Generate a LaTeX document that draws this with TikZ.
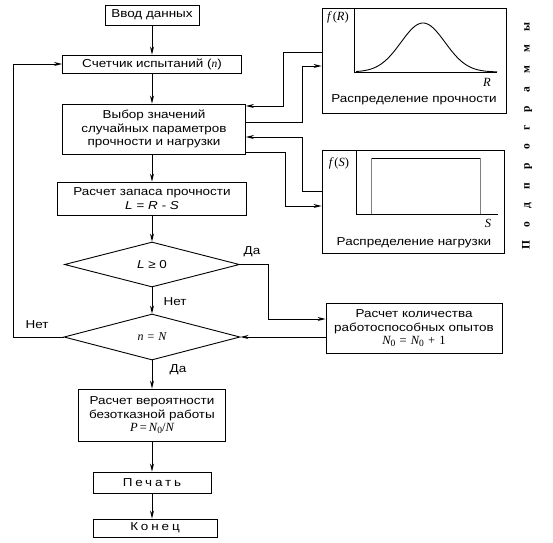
\documentclass[tikz,border=0pt]{standalone}
\usepackage{fontspec}
\setmainfont{Liberation Sans}[FakeStretch=1.17]
\newfontfamily\spacedfont{Liberation Sans}[FakeStretch=1.17,LetterSpace=25]
\newfontfamily\subfont{Liberation Serif}[LetterSpace=115]
\newfontfamily\timesf{Liberation Serif}
\newcommand\myit[1]{{\timesf\itshape #1}}
\newcommand\myrm[1]{{\timesf #1}}
\newcommand\mysub[1]{\raisebox{-0.3ex}{\fontsize{9.5}{10}\selectfont #1}}
\usetikzlibrary{shapes.geometric,arrows.meta}
\begin{document}
\begin{tikzpicture}[x=1pt,y=-1pt,
  line width=0.9pt,
  arr/.style={-{Stealth[length=8pt,width=4pt]}},
  box/.style={draw, rectangle, align=center, inner sep=0pt, font=\fontsize{11.5}{13.5}\selectfont},
  dia/.style={draw, diamond, inner sep=0pt, font=\fontsize{12}{13.5}\selectfont},
  lbl/.style={font=\fontsize{11.5}{13}\selectfont, inner sep=0pt},
  mlbl/.style={font=\fontsize{12.5}{13}\selectfont, inner sep=0pt},
  sub/.style={draw, rectangle, inner sep=0pt}]
\useasboundingbox (0,0) rectangle (553,542);

\node[box, minimum width=94, minimum height=20] (in) at (152,15) {Ввод данных};
\node[box, minimum width=179, minimum height=18] (cnt) at (152,64) {Счетчик испытаний (\myit{n})};
\node[box, minimum width=183, minimum height=50] (vyb) at (154,129) {Выбор значений\\случайных параметров\\прочности и нагрузки};
\node[box, minimum width=189, minimum height=33] (zap) at (152,198.5) {Расчет запаса прочности\\{\itshape L\,\,=\,\,R\,\,-\,\,S}};
\node[dia, minimum width=175, minimum height=45, font=\fontsize{11.5}{13}\selectfont] (d1) at (152,264.5) {{\itshape L} ≥ 0};
\node[dia, minimum width=176, minimum height=46] (d2) at (152,337) {\myrm{\myit{n}\,\,=\,\,\myit{N}}};
\node[box, minimum width=176, minimum height=50] (n0) at (414,328) {Расчет количества\\работоспособных опытов\\\myrm{\fontsize{12.5}{13}\selectfont\myit{N}\mysub{0}\,\,=\,\,\myit{N}\mysub{0}\,\,+\,\,1}};
\node[box, minimum width=147, minimum height=52] (ver) at (152,415) {Расчет вероятности\\безотказной работы\\\myrm{\fontsize{12.5}{13}\selectfont\myit{P}\,=\,\myit{N}\mysub{0}/\myit{N}}};
\node[box, minimum width=118, minimum height=21, font=\fontsize{11.5}{13}\spacedfont] (pech) at (152,482.5) {Печать};
\node[box, minimum width=124, minimum height=18, font=\fontsize{11.5}{13}\spacedfont] (kon) at (155,528) {Конец};

% subprogram boxes
\node[sub, minimum width=184, minimum height=105] (rb) at (414,60.5) {};
\node[sub, minimum width=182, minimum height=103] (sb) at (413,201.5) {};

% R distribution
\draw (354,8) -- (354,72) -- (497,72);
\draw[domain=356:497, samples=80, smooth] plot (\x, {72-49*exp(-((\x-423)/22)^2/2)});
\node[mlbl] (fr) at (338,17) {\myit{f}\,\myrm{(}\myit{R}\myrm{)}};
\node[mlbl] (rl) at (487,82) {\myit{R}};
\node[lbl] (rt) at (414,100) {Распределение прочности};

% S distribution
\draw (356,150) -- (356,214) -- (498,214);
\draw (371,158) -- (480,158);
\draw[line width=0.5pt, gray] (371,158) -- (371,214);
\draw[line width=0.5pt, gray] (480,158) -- (480,214);
\node[mlbl] (fs) at (339,163) {\myit{f}\,\myrm{(}\myit{S}\myrm{)}};
\node[mlbl] (sl) at (488,223) {\myit{S}};
\node[lbl] (st) at (414,243) {Распределение нагрузки};

\node[font=\fontsize{11.5}{12}\subfont\bfseries, rotate=90, inner sep=0pt] (subp) at (527,136) {Подпрограммы};

% main flow
\draw[arr] (in) -- (cnt);
\draw[arr] (cnt.south -| 152,0) -- (vyb.north -| 152,0);
\draw[arr] (vyb.south -| 152,0) -- (zap.north);
\draw[arr] (zap) -- (d1);
\draw[arr] (d1) -- (d2);
\draw[arr] (d2) -- (ver);
\draw[arr] (ver) -- (pech);
\draw[arr] (pech.south -| 152,0) -- (kon.north -| 152,0);

% loop back
\draw[arr] (d2.west) -- (13,337) |- (cnt.west);
\node[lbl] (net2) at (37,325) {Нет};
\node[lbl] (net1) at (175,302) {Нет};
\node[lbl] (da1) at (252,252) {Да};
\node[lbl] (da2) at (178,370) {Да};

% yes branch
\draw[arr] (d1.east) -- (268,264.5) -- (268,319) -- (n0.west |- 0,319);
\draw[arr] (n0.west |- d2.east) -- (d2.east);

% subprogram connectors
\draw[arr] (rb.west |- 0,52) -- (283,52) -- (283,106) -- (vyb.east |- 0,106);
\draw[arr] (vyb.east |- 0,122) -- (302,122) -- (302,66) -- (rb.west |- 0,66);
\draw[arr] (sb.west |- 0,191) -- (302,191) -- (302,137) -- (vyb.east |- 0,137);
\draw[arr] (vyb.east |- 0,152) -- (285,152) -- (285,206) -- (sb.west |- 0,206);
\end{tikzpicture}
\end{document}
